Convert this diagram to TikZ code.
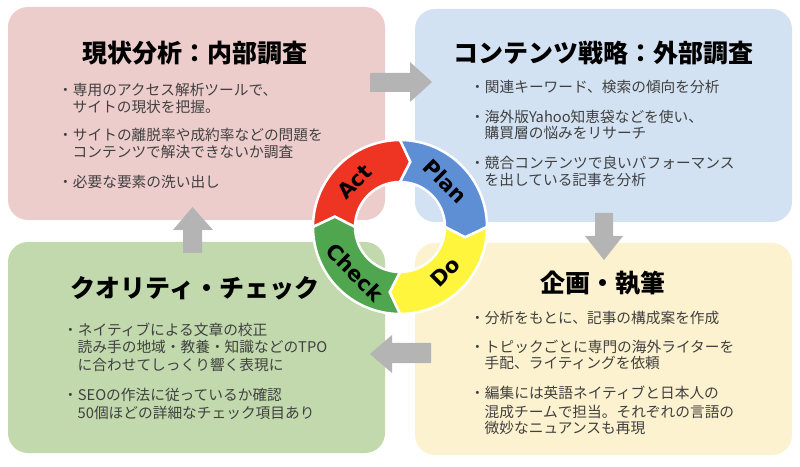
\documentclass[tikz,border=0pt]{standalone}
\usepackage{fontspec}
\setmainfont{Noto Sans CJK JP}
\newfontfamily\labelfont{DejaVu Sans}
\usetikzlibrary{calc}
\definecolor{pinkbox}{HTML}{EDCDCC}
\definecolor{bluebox}{HTML}{D3E2F2}
\definecolor{greenbox}{HTML}{C1D9AD}
\definecolor{yellowbox}{HTML}{FDF2CF}
\definecolor{arrowgray}{HTML}{B4B4B4}
\definecolor{actred}{HTML}{EE3524}
\definecolor{planblue}{HTML}{5E8FD5}
\definecolor{doyellow}{HTML}{FFF53C}
\definecolor{checkgreen}{HTML}{4FA64F}
\definecolor{bodygray}{HTML}{404040}
\newcommand{\cycseg}[4]{%
  \filldraw[seg, fill=#1] ($(c)+(#2:87pt)$) arc[start angle=#2, end angle=#3, radius=87pt]
    -- ($(c)+(#3-9:66pt)$) -- ($(c)+(#3:45pt)$) arc[start angle=#3, end angle=#2, radius=45pt]
    -- ($(c)+(#2-9:66pt)$) -- cycle;}
\begin{document}
\begin{tikzpicture}[x=1pt,y=1pt,
  box/.style={rounded corners=20pt},
  title/.style={font=\bfseries\fontsize{25}{29}\selectfont, inner sep=0},
  body/.style={anchor=west, inner sep=0, text=bodygray, font=\fontsize{14.7}{17}\selectfont},
  blockarrow/.style={fill=arrowgray},
  seg/.style={draw=white, line width=2.5pt, line join=miter},
  cyclabel/.style={font=\labelfont\bfseries\fontsize{21}{24}\selectfont, inner sep=0}]
\useasboundingbox (0,0) rectangle (800,466);
\fill[white] (0,0) rectangle (800,466);

% boxes
\fill[pinkbox, box] (8,246) rectangle (385,459);
\fill[bluebox, box] (415,244) rectangle (792,457);
\fill[greenbox, box] (8,13) rectangle (385,224);
\fill[yellowbox, box] (415,11) rectangle (792,223);

% pink box
\node[title] (t1) at (195,413) {現状分析：内部調査};
\node[body] (p1) at (58,376) {・専用のアクセス解析ツールで、};
\node[body] (p2) at (72.5,359) {サイトの現状を把握。};
\node[body] (p3) at (58,331) {・サイトの離脱率や成約率などの問題を};
\node[body] (p4) at (72.5,314) {コンテンツで解決できないか調査};
\node[body] (p5) at (58,284) {・必要な要素の洗い出し};

% blue box
\node[title] (t2) at (603,413) {コンテンツ戦略：外部調査};
\node[body] (b1) at (470,379) {・関連キーワード、検索の傾向を分析};
\node[body] (b2) at (470,349) {・海外版Yahoo知恵袋などを使い、};
\node[body] (b3) at (484.5,333) {購買層の悩みをリサーチ};
\node[body] (b4) at (470,303) {・競合コンテンツで良いパフォーマンス};
\node[body] (b5) at (484.5,286) {を出している記事を分析};

% green box
\node[title] (t3) at (195,178) {クオリティ・チェック};
\node[body] (g1) at (63,136) {・ネイティブによる文章の校正};
\node[body] (g2) at (77.5,119) {読み手の地域・教養・知識などのTPO};
\node[body] (g3) at (77.5,101) {に合わせてしっくり響く表現に};
\node[body] (g4) at (63,71) {・SEOの作法に従っているか確認};
\node[body] (g5) at (77.5,53) {50個ほどの詳細なチェック項目あり};

% yellow box
\node[title] (t4) at (603,183) {企画・執筆};
\node[body] (y1) at (470,148) {・分析をもとに、記事の構成案を作成};
\node[body] (y2) at (470,119) {・トピックごとに専門の海外ライターを};
\node[body] (y3) at (484.5,103) {手配、ライティングを依頼};
\node[body] (y4) at (470,73) {・編集には英語ネイティブと日本人の};
\node[body] (y5) at (484.5,54) {混成チームで担当。それぞれの言語の};
\node[body] (y6) at (484.5,38) {微妙なニュアンスも再現};

% gray block arrows
\fill[blockarrow] (370,374) -- (410,374) -- (410,364) -- (432,384) -- (410,404) -- (410,393) -- (370,393) -- cycle;
\fill[blockarrow] (595,253) -- (595,230) -- (585,230) -- (604,206) -- (623,230) -- (613,230) -- (613,253) -- cycle;
\fill[blockarrow] (431,103) -- (392,103) -- (392,93) -- (370,112) -- (392,131) -- (392,123) -- (431,123) -- cycle;
\fill[blockarrow] (183,213) -- (183,236) -- (173,236) -- (192.5,259) -- (213,236) -- (202,236) -- (202,213) -- cycle;

% PDCA cycle
\coordinate (c) at (400,239);
\cycseg{actred}{180}{90}{}
\cycseg{planblue}{90}{0}{}
\cycseg{doyellow}{0}{-90}{}
\cycseg{checkgreen}{-90}{-180}{}
\node[cyclabel, rotate=45] (act) at ($(c)+(135:64pt)$) {Act};
\node[cyclabel, rotate=-45] (plan) at ($(c)+(45:64pt)$) {Plan};
\node[cyclabel, rotate=45] (do) at ($(c)+(-45:64pt)$) {Do};
\node[cyclabel, rotate=-45] (check) at ($(c)+(-135:64pt)$) {Check};
\end{tikzpicture}
\end{document}
